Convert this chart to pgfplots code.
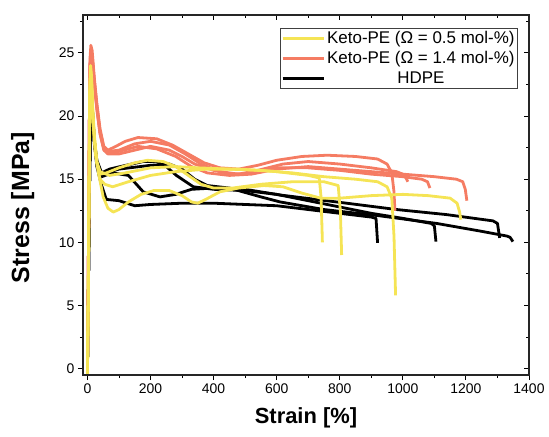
\documentclass[border=0pt]{standalone}
\usepackage{fontspec}
\setmainfont{Liberation Sans}
\usepackage{pgfplots}
\pgfplotsset{compat=1.18}
\definecolor{ketoY}{RGB}{245,228,85}
\definecolor{ketoR}{RGB}{245,124,99}
\tikzset{curve/.style={line width=2.8bp, line join=round}}
\begin{document}
\begin{tikzpicture}
\begin{axis}[name=main, scale only axis, width=446bp, height=360bp,
 xmin=-14, xmax=1400, ymin=-0.5, ymax=28,
 xtick={0,200,...,1400}, minor xtick={100,300,...,1300},
 ytick={0,5,...,25}, minor ytick={2.5,7.5,...,27.5},
 xtick pos=bottom, ytick pos=left, tick align=outside,
 major tick length=5bp, minor tick length=3bp,
 every tick/.style={line width=0.9bp, black},
 axis line style={line width=1.1bp, black!85},
 tick label style={font=\fontsize{14}{16}\selectfont},
 /pgf/number format/assume math mode=true, /pgf/number format/1000 sep={},
 xlabel={\bfseries Strain [\%]}, ylabel={\bfseries Stress [MPa]},
 xlabel style={font=\fontsize{22}{26}\selectfont, at={(axis description cs:0.5,-0.12)}, anchor=center},
 ylabel style={font=\fontsize{25}{29}\selectfont, at={(axis description cs:-0.135,0.465)}, anchor=center},
 legend cell align=center,
 legend style={at={(0.975,0.964)}, anchor=north east, draw=black!75, line width=0.8bp,
   font=\fontsize{17}{20}\selectfont, inner sep=1bp, row sep=2.5bp,
   /tikz/every even column/.append style={column sep=2bp}},
 legend image code/.code={\draw[#1, line width=3.2bp] (0bp,0bp) -- (41bp,0bp);},
]
% ---- HDPE (black)
\addplot[black, curve, forget plot] coordinates {(0,-0.3)(3,6)(6,13)(9,19)(12,21.5)(16,20.5)(22,18)(30,16)(45,14.5)(60,13.4)(100,13.3)(150,12.9)(200,13.0)(300,13.1)(400,13.1)(500,13.0)(600,12.9)(700,12.6)(800,12.3)(900,12.0)(915,11.9)(920,9.96)};
\addplot[black, curve, forget plot] coordinates {(0,-0.3)(3,6)(6,13)(9,19)(12,21.2)(16,20.3)(22,18)(30,16.5)(45,15.5)(70,15.8)(104,16.0)(177,16.4)(219,16.4)(250,16.0)(282,15.3)(336,14.4)(400,14.2)(500,14.1)(600,13.8)(700,13.3)(800,12.8)(900,12.3)(1000,11.9)(1090,11.5)(1100,11.3)(1105,10.06)};
\addplot[black, curve, forget plot] coordinates {(0,-0.3)(3,6)(6,13)(9,19)(12,21)(16,20)(22,17.8)(30,16.2)(45,15.2)(80,15.5)(130,15.3)(177,14.0)(230,13.6)(280,13.8)(330,14.2)(400,14.3)(500,14.2)(611,13.75)(822,13.1)(980,12.6)(1138,12.2)(1286,11.7)(1300,11.5)(1307,10.35)};
\addplot[black, curve, forget plot] coordinates {(0,-0.3)(3,6)(6,13)(9,19)(12,21.3)(16,20.4)(22,18)(30,16.4)(45,15.4)(100,15.8)(200,16.1)(260,16.2)(300,15.8)(340,15.0)(380,14.5)(450,14.3)(550,13.6)(611,13.2)(750,12.6)(927,12.1)(1107,11.5)(1244,10.9)(1330,10.5)(1340,10.4)(1349,10.06)};
% ---- Keto-PE 1.4 (salmon)
\addplot[ketoR, curve, forget plot] coordinates {(0,-0.3)(2,5)(4,12)(6,19)(8,24.5)(11,25.6)(15,25.2)(22,23.0)(30,21.0)(40,19.0)(52,17.6)(65,17.3)(90,17.6)(120,18.0)(160,18.3)(220,18.2)(270,17.7)(320,17.0)(370,16.3)(420,15.9)(480,15.8)(540,16.1)(600,16.5)(680,16.8)(760,16.9)(850,16.8)(920,16.6)(950,16.2)(965,15.5)(972,14.0)(975,12.5)};
\addplot[ketoR, curve, forget plot] coordinates {(0,-0.3)(2,5)(4,12)(6,19)(8,24)(11,25.2)(15,24.8)(22,22.8)(30,20.8)(40,18.8)(52,17.5)(65,17.2)(100,17.3)(150,17.8)(200,18.0)(260,17.7)(310,17.0)(360,16.2)(420,15.6)(480,15.4)(540,15.7)(620,16.2)(700,16.4)(800,16.2)(900,15.9)(980,15.6)(1000,15.4)(1010,15.1)(1016,14.8)};
\addplot[ketoR, curve, forget plot] coordinates {(0,-0.3)(2,5)(4,12)(6,19)(8,23.8)(11,25.0)(15,24.6)(22,22.6)(30,20.6)(40,18.6)(52,17.3)(65,17.0)(100,17.0)(150,17.3)(200,17.6)(260,17.3)(300,16.8)(340,16.2)(400,15.7)(460,15.4)(530,15.5)(600,15.9)(700,15.9)(800,15.7)(900,15.4)(1000,15.2)(1060,15.0)(1078,14.8)(1086,14.3)};
\addplot[ketoR, curve, forget plot] coordinates {(0,-0.3)(2,5)(4,12)(6,19)(8,23.6)(11,24.8)(15,24.4)(22,22.5)(30,20.5)(40,18.6)(52,17.4)(65,17.1)(100,17.2)(160,17.6)(220,17.4)(280,16.8)(330,16.0)(380,15.5)(450,15.3)(520,15.4)(600,15.8)(700,16.0)(800,15.8)(900,15.6)(1000,15.4)(1100,15.2)(1170,15.0)(1190,14.8)(1198,14.2)(1203,13.3)};
% ---- Keto-PE 0.5 (yellow)
\addplot[ketoY, curve, forget plot] coordinates {(0,-0.5)(2,4)(4,10)(6,17)(8,22.5)(10,24.0)(13,23.2)(17,20.5)(22,18.5)(30,16.3)(40,15.0)(55,14.6)(80,14.4)(130,14.8)(200,15.3)(280,15.6)(380,15.8)(480,15.8)(600,15.6)(700,15.3)(735,15.1)(741,13.5)(745,10.0)};
\addplot[ketoY, curve, forget plot] coordinates {(0,-0.5)(2,4)(4,10)(6,17)(8,22.3)(10,23.7)(13,22.9)(17,20.3)(22,18.3)(30,16.3)(40,15.4)(60,15.5)(100,15.9)(150,16.3)(190,16.5)(240,16.4)(280,16.0)(320,15.3)(360,14.6)(400,14.3)(460,14.3)(550,14.6)(650,14.8)(750,14.8)(795,14.5)(802,12.5)(806,9.0)};
\addplot[ketoY, curve, forget plot] coordinates {(0,-0.5)(2,4)(4,10)(6,17)(8,22)(10,23.4)(13,22.7)(17,20.2)(22,18.2)(30,16.4)(40,15.6)(70,15.3)(120,15.5)(200,15.9)(280,16.0)(350,15.9)(450,15.8)(550,15.7)(650,15.5)(750,15.2)(850,15.0)(920,14.8)(950,14.4)(965,13.5)(972,10.5)(977,5.8)};
\addplot[ketoY, curve, forget plot] coordinates {(0,-0.5)(2,4)(4,10)(6,16.5)(8,21.5)(10,22.8)(13,22.0)(18,19.5)(25,17)(35,15.5)(50,13.6)(65,12.7)(82,12.4)(100,12.6)(130,13.2)(170,13.8)(210,14.1)(260,14.1)(300,13.7)(330,13.2)(350,13.1)(375,13.4)(420,14.0)(480,14.3)(560,14.5)(620,14.4)(680,13.9)(740,13.5)(800,13.5)(900,13.7)(1000,13.8)(1080,13.7)(1150,13.5)(1172,13.1)(1180,12.4)(1184,11.8)};
% ---- legend
\addlegendimage{ketoY}
\addlegendentry{Keto-PE (Ω = 0.5 mol-\%)}
\addlegendimage{ketoR}
\addlegendentry{Keto-PE (Ω = 1.4 mol-\%)}
\addlegendimage{black}
\addlegendentry{HDPE}
\end{axis}
\begin{axis}[scale only axis, width=446bp, height=360bp, at={(main.south west)}, anchor=south west,
 xmin=-14, xmax=1400, ymin=-0.5, ymax=28,
 xtick={0,200,...,1400}, minor xtick={100,300,...,1300},
 ytick={0,5,...,25}, minor ytick={2.5,7.5,...,27.5},
 xtick pos=top, ytick pos=right, tick align=inside,
 xticklabels={}, yticklabels={},
 major tick length=5bp, minor tick length=3bp,
 every tick/.style={line width=0.9bp, black},
 axis line style={line width=1.1bp, black!85},
]
\end{axis}
\pgfresetboundingbox
\path ([shift={(-83bp,-62bp)}]main.south west) rectangle ([shift={(20bp,15bp)}]main.north east);
\end{tikzpicture}
\end{document}
